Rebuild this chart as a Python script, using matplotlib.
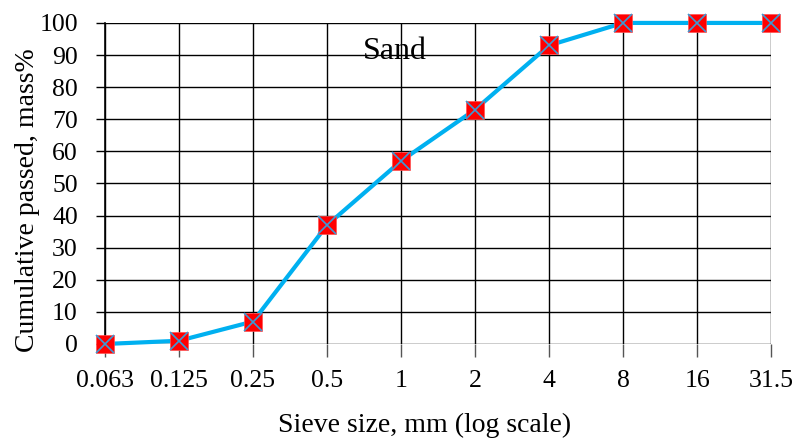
import matplotlib
matplotlib.use("Agg")
import matplotlib.pyplot as plt

# sieve analysis of the sand
sieve_labels = ["0.063", "0.125", "0.25", "0.5", "1", "2", "4", "8", "16", "31.5"]
passed = [0, 1, 7, 37, 57, 73, 93, 100, 100, 100]
y_ticks = list(range(0, 101, 10))

plt.rcParams["font.family"] = ["Liberation Serif", "DejaVu Serif"]

fig = plt.figure(figsize=(7.95, 4.41), dpi=100)
ax = fig.add_axes([0.132, 0.22, 0.838, 0.728])

pos = list(range(len(sieve_labels)))
ax.plot(pos, passed, "-", color="#00B0F0", lw=3, zorder=3, clip_on=False)
ax.plot(pos, passed, "s", ms=13, mfc="#FF0000", mec="#FF5050", mew=0.5,
        zorder=4, clip_on=False)
ax.plot(pos, passed, "x", ms=12.5, mec="#3A9AD6", mew=1.2, zorder=5,
        clip_on=False)

ax.set_xlim(0, len(sieve_labels) - 1)
ax.set_ylim(0, 100)
ax.set_xticks(pos)
ax.set_xticklabels(sieve_labels)
ax.set_yticks(y_ticks)

ax.grid(True, color="#000000", lw=1)
ax.set_axisbelow(True)
for side in ["top", "right", "bottom"]:
    ax.spines[side].set_visible(False)
ax.spines["left"].set_linewidth(1.2)

ax.tick_params(axis="x", length=9.4, width=1, color="#555555", pad=9,
               labelsize=18.5)
ax.tick_params(axis="y", length=6.5, width=1, color="#000000", pad=13,
               labelsize=18.5)

ax.set_xlabel("Sieve size, mm (log scale)", fontsize=20)
ax.set_ylabel("Cumulative passed, mass%", fontsize=20)
ax.xaxis.set_label_coords(0.48, -0.215)
ax.yaxis.set_label_coords(-0.097, 0.449)
ax.text(3.92, 91, "Sand", fontsize=23, ha="center", va="center")

fig.savefig("out.png", dpi=100)
